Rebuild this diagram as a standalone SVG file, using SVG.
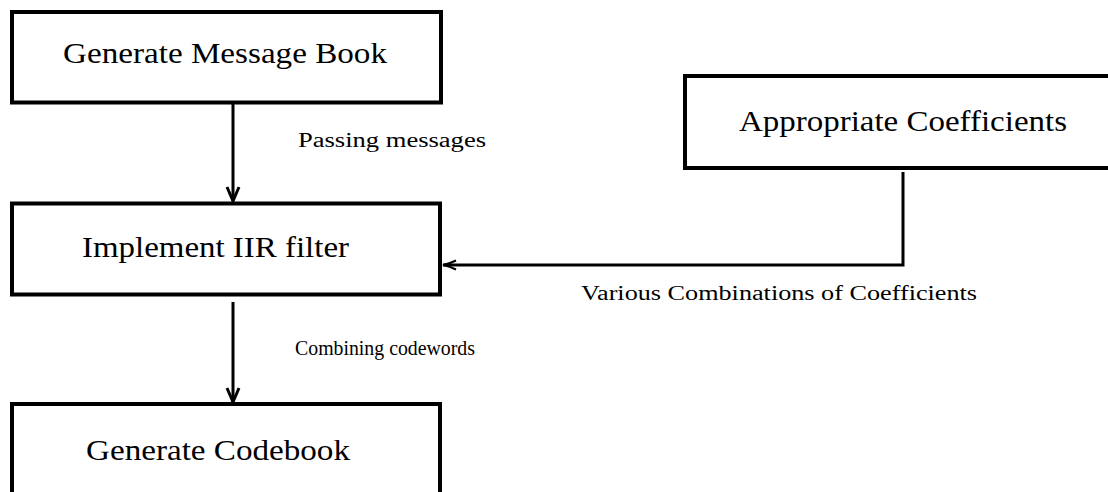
<svg xmlns="http://www.w3.org/2000/svg" width="1108" height="492" viewBox="0 0 1108 492">
  <defs>
    <style>
      .box { fill: #ffffff; stroke: #000000; stroke-width: 4; }
      .title { font-family: "Liberation Serif", "Times New Roman", serif; font-size: 30px; fill: #000000; }
      .label { font-family: "Liberation Serif", "Times New Roman", serif; font-size: 20px; fill: #000000; }
      .wire { fill: none; stroke: #000000; stroke-width: 3; }
    </style>
    <marker id="headDown" markerUnits="userSpaceOnUse" markerWidth="20" markerHeight="20" viewBox="-16 -10 20 20" refX="0" refY="0" orient="auto">
      <path d="M-14,-6 L0,0 L-14,6" fill="none" stroke="#000" stroke-width="3"/>
    </marker>
    <marker id="headLeft" markerUnits="userSpaceOnUse" markerWidth="20" markerHeight="20" viewBox="-16 -10 20 20" refX="0" refY="0" orient="auto">
      <path d="M-13,-4.5 Q-7,-1.5 0,0 Q-7,1.5 -13,4.5" fill="none" stroke="#000" stroke-width="2"/>
    </marker>
  </defs>

  <rect width="1108" height="492" fill="#ffffff"/>

  <g id="generate-message-book">
    <rect class="box" x="12" y="12" width="429" height="90.5"/>
    <text class="title" x="63" y="63" textLength="324" lengthAdjust="spacingAndGlyphs">Generate Message Book</text>
  </g>

  <g id="implement-iir-filter">
    <rect class="box" x="12" y="203.5" width="428" height="91"/>
    <text class="title" x="82" y="257" textLength="267" lengthAdjust="spacingAndGlyphs">Implement IIR filter</text>
  </g>

  <g id="generate-codebook">
    <rect class="box" x="12" y="404" width="428" height="110"/>
    <text class="title" x="86" y="460" textLength="264" lengthAdjust="spacingAndGlyphs">Generate Codebook</text>
  </g>

  <g id="appropriate-coefficients">
    <rect class="box" x="685" y="76" width="436" height="92"/>
    <text class="title" x="739" y="131" textLength="328" lengthAdjust="spacingAndGlyphs">Appropriate Coefficients</text>
  </g>

  <g id="connectors">
    <line class="wire" x1="233" y1="102" x2="233" y2="201" marker-end="url(#headDown)"/>
    <line class="wire" x1="233" y1="302" x2="233" y2="402" marker-end="url(#headDown)"/>
    <polyline class="wire" points="903,172 903,265 443,265" marker-end="url(#headLeft)"/>
    <text class="label" x="298" y="147" textLength="188" lengthAdjust="spacingAndGlyphs">Passing messages</text>
    <text class="label" x="295" y="355" textLength="180" lengthAdjust="spacingAndGlyphs">Combining codewords</text>
    <text class="label" x="581" y="300" textLength="396" lengthAdjust="spacingAndGlyphs">Various Combinations of Coefficients</text>
  </g>
</svg>
